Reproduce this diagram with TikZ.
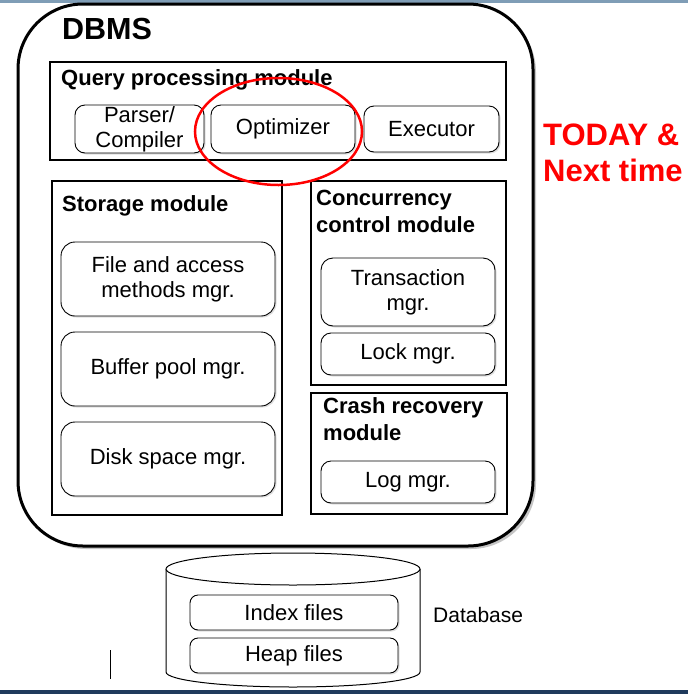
\documentclass[tikz,border=0pt]{standalone}
\usepackage{fontspec}
\setmainfont{Liberation Sans}
\usetikzlibrary{shadows}

\definecolor{topline}{HTML}{7F9DB6}
\definecolor{botline}{HTML}{1F3A5C}

\tikzset{
  modbox/.style={draw,line width=2pt,inner sep=0pt},
  mgrbox/.style={draw,rounded corners=10pt,line width=0.9pt,fill=white,align=center,
    inner sep=0pt,font=\fontsize{22}{25}\selectfont,
    drop shadow={opacity=0.25,shadow xshift=1.5pt,shadow yshift=-1.5pt}},
  modtitle/.style={anchor=base west,inner sep=0pt,align=left,
    font=\fontsize{22}{27}\selectfont\bfseries},
}

\begin{document}
\begin{tikzpicture}[x=1pt,y=-1pt]
\fill[white] (0,0) rectangle (688,694);
\useasboundingbox (0,0) rectangle (688,694);
% slide rules
\fill[topline] (0,0) rectangle (688,2.5);
\fill[botline] (0,689.5) rectangle (688,694);
\draw[line width=0.8pt] (110,650) -- (110,679);

% DBMS frame
\node[draw,line width=3pt,rounded corners=65pt,fill=white,
  minimum width=515pt,minimum height=542pt,
  drop shadow={opacity=0.45,shadow xshift=3pt,shadow yshift=-3pt}]
  (dbms) at (275.5,275) {};
\node[anchor=base west,inner sep=0pt,font=\fontsize{30.5}{36}\selectfont\bfseries]
  (dbmslbl) at (62,39) {DBMS};

% Query processing module
\node[modbox,minimum width=456pt,minimum height=98pt] (qpm) at (278,111) {};
\node[modtitle] (qpmlbl) at (61,85) {Query processing module};
\node[mgrbox,minimum width=129pt,minimum height=48pt] (parser) at (139.5,129) {Parser/\\Compiler};
\node[mgrbox,minimum width=144pt,minimum height=48pt] (optimizer) at (283,129) {Optimizer};
\node[mgrbox,minimum width=135pt,minimum height=46pt] (executor) at (431.5,129) {Executor};

% Storage module
\node[modbox,minimum width=230pt,minimum height=334pt] (storage) at (167,348) {};
\node[modtitle] (storagelbl) at (62,211) {Storage module};
\foreach \y/\t/\n in {279/{File and access\\methods mgr.}/fam,
                      369/{Buffer pool mgr.}/bpm,
                      459/{Disk space mgr.}/dsm}
  \node[mgrbox,rounded corners=14pt,minimum width=214pt,minimum height=74pt] (\n) at (168,\y) {\t};

% Concurrency control module
\node[modbox,minimum width=195pt,minimum height=204pt] (ccm) at (408.5,283) {};
\node[modtitle] (ccmlbl) at (316,232) {Concurrency\\control module};
\node[mgrbox,rounded corners=12pt,minimum width=174pt,minimum height=68pt] (txn) at (408,292) {Transaction\\mgr.};
\node[mgrbox,minimum width=174pt,minimum height=42pt] (lock) at (408,354) {Lock mgr.};

% Crash recovery module
\node[modbox,minimum width=196pt,minimum height=121pt] (crm) at (409,453.5) {};
\node[modtitle] (crmlbl) at (323,440) {Crash recovery\\module};
\node[mgrbox,minimum width=174pt,minimum height=42pt] (log) at (408,482) {Log mgr.};

% highlight
\draw[red,line width=2.5pt] (278.5,131.5) ellipse[x radius=83.5pt,y radius=53.5pt];
\node[anchor=base west,inner sep=0pt,align=left,text=red,
  font=\fontsize{31}{36}\selectfont\bfseries] (today) at (543,181) {TODAY \&\\Next time};

% Database cylinder
\draw[line width=1pt,fill=white] (166,569) -- (166,672)
  arc[start angle=180,end angle=360,x radius=127pt,y radius=15pt] -- (420,569);
\draw[line width=1pt,fill=white] (293,569) ellipse[x radius=127pt,y radius=16pt];
\node[mgrbox,rounded corners=8pt,minimum width=208pt,minimum height=35pt] (index) at (294,612.5) {Index files};
\node[mgrbox,rounded corners=8pt,minimum width=208pt,minimum height=35pt] (heap) at (294,655.5) {Heap files};
\node[anchor=base west,inner sep=0pt,font=\fontsize{21}{25}\selectfont] (dblbl) at (433,622) {Database};
\end{tikzpicture}
\end{document}
